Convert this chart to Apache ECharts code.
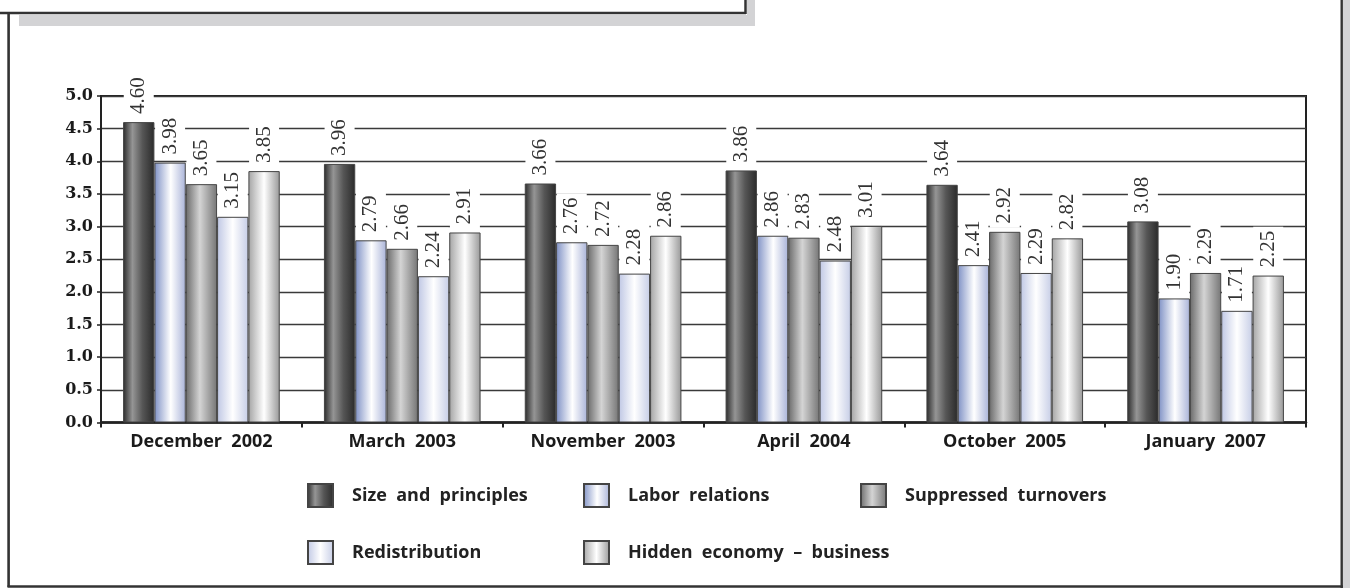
<!DOCTYPE html>
<html>
<head>
<meta charset="utf-8">
<script src="https://cdn.jsdelivr.net/npm/echarts@6/dist/echarts.min.js"></script>
<style>
html,body{margin:0;padding:0;background:#fff;}
#chart{width:1350px;height:588px;}
</style>
</head>
<body>
<div id="chart"></div>
<script>
// ---- data ----
var categories = ['December 2002', 'March 2003', 'November 2003', 'April 2004', 'October 2005', 'January 2007'];
var seriesNames = ['Size and principles', 'Labor relations', 'Suppressed turnovers', 'Redistribution', 'Hidden economy \u2013 business'];
var sizeAndPrinciples   = [4.60, 3.96, 3.66, 3.86, 3.64, 3.08];
var laborRelations      = [3.98, 2.79, 2.76, 2.86, 2.41, 1.90];
var suppressedTurnovers = [3.65, 2.66, 2.72, 2.83, 2.92, 2.29];
var redistribution      = [3.15, 2.24, 2.28, 2.48, 2.29, 1.71];
var hiddenEconomy       = [3.85, 2.91, 2.86, 3.01, 2.82, 2.25];
var yTicks = [0, 0.5, 1, 1.5, 2, 2.5, 3, 3.5, 4, 4.5, 5];

var values = [sizeAndPrinciples, laborRelations, suppressedTurnovers, redistribution, hiddenEconomy];

function grad(stops) {
  return {type: 'linear', x: 0, y: 0, x2: 1, y2: 0,
    colorStops: stops.map(function (s) { return {offset: s[0], color: s[1]}; })};
}
function wide(s) { return s.replace(/ /g, '  '); }

var fills = [
  grad([[0, '#2a2a2a'], [0.3, '#959595'], [0.62, '#565656'], [1, '#2a2a2a']]),
  grad([[0, '#7f91c5'], [0.52, '#ffffff'], [1, '#a9b3d8']]),
  grad([[0, '#6a6a6a'], [0.45, '#d4d4d4'], [1, '#757575']]),
  grad([[0, '#bfc7e4'], [0.5, '#ffffff'], [1, '#c6cde6']]),
  grad([[0, '#a4a4a4'], [0.5, '#ffffff'], [1, '#989898']])
];

var series = seriesNames.map(function (name, i) {
  return {
    name: name,
    type: 'bar',
    data: values[i],
    barGap: '0%',
    barCategoryGap: '22%',
    itemStyle: {color: fills[i], borderColor: '#444', borderWidth: 1},
    label: {
      show: true,
      position: 'top',
      rotate: 90,
      align: 'left',
      verticalAlign: 'middle',
      distance: 4,
      formatter: function (p) { return p.value.toFixed(2); },
      fontFamily: 'Liberation Serif',
      fontSize: 21,
      lineHeight: 20,
      color: '#333',
      backgroundColor: '#fff',
      padding: [5, 4, 5, 4]
    },
    emphasis: {disabled: true}
  };
});

var legendPos = [
  {left: 307, top: 483},
  {left: 583, top: 483},
  {left: 860, top: 483},
  {left: 307, top: 540},
  {left: 583, top: 540}
];
var legends = seriesNames.map(function (name, i) {
  return {
    data: [name],
    left: legendPos[i].left,
    top: legendPos[i].top,
    orient: 'horizontal',
    padding: 0,
    itemWidth: 25,
    itemHeight: 23,
    icon: 'rect',
    selectedMode: false,
    formatter: wide,
    textStyle: {fontFamily: 'Open Sans', fontWeight: 'bold', fontSize: 18, color: '#222', padding: [3, 0, 0, 14]}
  };
});

var dark = '#333';
var shadow = '#d3d3d5';

var option = {
  animation: false,
  backgroundColor: '#fff',
  grid: {left: 101, right: 44, top: 96, bottom: 165.5, show: true, borderColor: '#222', borderWidth: 2, containLabel: false},
  legend: legends,
  xAxis: {
    type: 'category',
    data: categories,
    axisLine: {show: true, lineStyle: {color: '#222', width: 2.5}},
    axisTick: {show: true, length: 5, lineStyle: {color: '#222', width: 2}},
    axisLabel: {fontFamily: 'Open Sans', fontWeight: 'bold', fontSize: 18, color: '#1a1a1a', margin: 10, formatter: wide},
    splitLine: {show: false}
  },
  yAxis: {
    type: 'value',
    min: 0,
    max: 5,
    interval: 0.5,
    axisLine: {show: true, lineStyle: {color: '#222', width: 2}},
    axisTick: {show: true, length: 4, lineStyle: {color: '#222', width: 1.5}},
    axisLabel: {
      fontFamily: 'DejaVu Serif', fontWeight: 'bold', fontSize: 16, color: '#1a1a1a', margin: 8,
      formatter: function (v) { return yTicks.indexOf(v) >= 0 ? v.toFixed(1) : ''; }
    },
    splitLine: {show: true, lineStyle: {color: '#3a3a3a', width: 1.4}}
  },
  series: series,
  graphic: [
    // title box shadow
    {type: 'rect', shape: {x: 19, y: 15, width: 736, height: 11}, style: {fill: shadow}, silent: true},
    {type: 'rect', shape: {x: 747, y: 0, width: 8, height: 26}, style: {fill: shadow}, silent: true},
    // title box border
    {type: 'line', shape: {x1: 0, y1: 13, x2: 746, y2: 13}, style: {stroke: dark, lineWidth: 2.5}, silent: true},
    {type: 'line', shape: {x1: 745.5, y1: 0, x2: 745.5, y2: 14}, style: {stroke: dark, lineWidth: 2.5}, silent: true},
    // outer frame
    {type: 'line', shape: {x1: 8.6, y1: 12, x2: 8.6, y2: 587}, style: {stroke: dark, lineWidth: 2.6}, silent: true},
    {type: 'line', shape: {x1: 7.5, y1: 586.5, x2: 1343, y2: 586.5}, style: {stroke: dark, lineWidth: 2.6}, silent: true},
    {type: 'line', shape: {x1: 1341.7, y1: 0, x2: 1341.7, y2: 588}, style: {stroke: dark, lineWidth: 2.4}, silent: true},
    {type: 'rect', shape: {x: 1343, y: 0, width: 7, height: 588}, style: {fill: shadow}, silent: true}
  ]
};

var chart = echarts.init(document.getElementById('chart'), null, {renderer: 'canvas'});
chart.setOption(option);
</script>
</body>
</html>
